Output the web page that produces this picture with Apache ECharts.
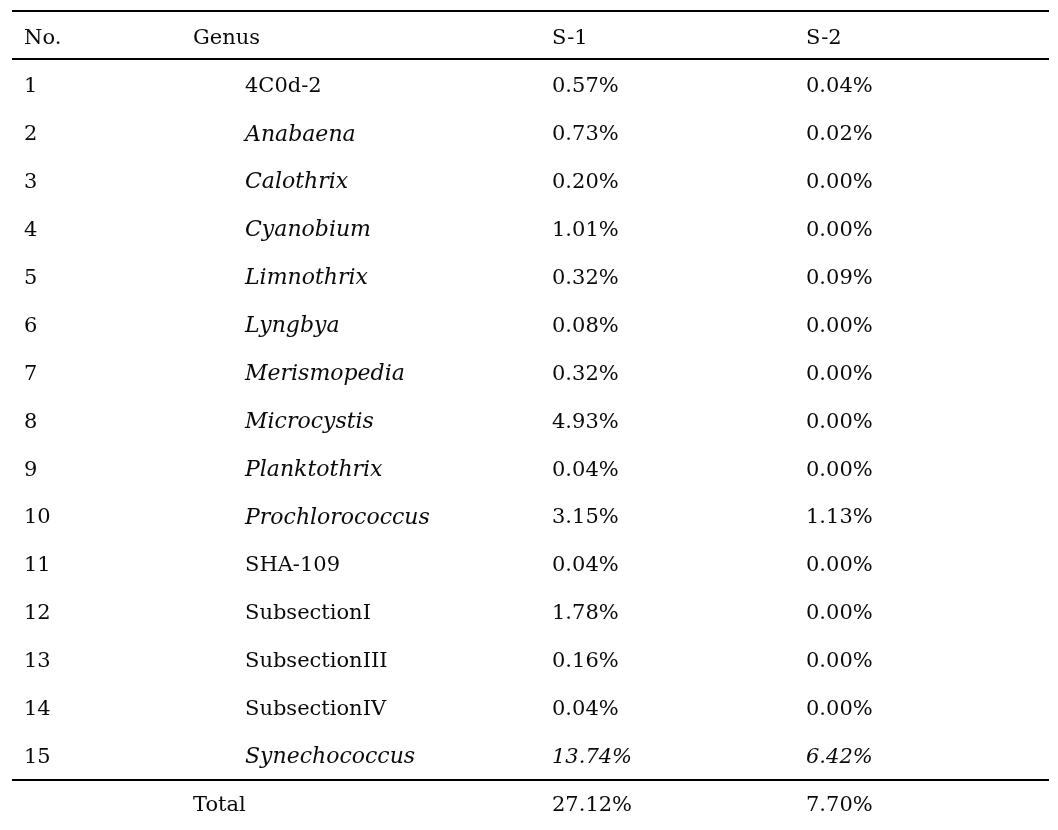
<!DOCTYPE html>
<html>
<head>
<meta charset="utf-8">
<script src="https://cdn.jsdelivr.net/npm/echarts@6/dist/echarts.min.js"></script>
<style>
html,body{margin:0;padding:0;background:#fff;}
#chart{width:1058px;height:830px;}
</style>
</head>
<body>
<div id="chart"></div>
<script>
// ---- data ----
const headers = ['No.', 'Genus', 'S-1', 'S-2'];
const rowNumbers = ['1','2','3','4','5','6','7','8','9','10','11','12','13','14','15'];
const genera = ['4C0d-2','Anabaena','Calothrix','Cyanobium','Limnothrix','Lyngbya','Merismopedia','Microcystis','Planktothrix','Prochlorococcus','SHA-109','SubsectionI','SubsectionIII','SubsectionIV','Synechococcus'];
const genusItalic = [false,true,true,true,true,true,true,true,true,true,false,false,false,false,true];
const s1Values = [0.57,0.73,0.20,1.01,0.32,0.08,0.32,4.93,0.04,3.15,0.04,1.78,0.16,0.04,13.74];
const s2Values = [0.04,0.02,0.00,0.00,0.09,0.00,0.00,0.00,0.00,1.13,0.00,0.00,0.00,0.00,6.42];
const valueItalic = [false,false,false,false,false,false,false,false,false,false,false,false,false,false,true];
const totalLabel = 'Total';
const totalS1 = 27.12;
const totalS2 = 7.70;

// ---- layout (column anchors in x-axis units, row index on y-axis) ----
const COL = {no: 24, genusHead: 193, genus: 245, s1: 552, s2: 806};
const LINE_X = [12, 1049];
const RULES = [-0.595, 0.418, 15.47];
const FONT = 'DejaVu Serif';
const FS = 21;
const FS_ITALIC_NAME = 22;

const pct = v => v.toFixed(2) + '%';
const nRows = genera.length;

function cell(x, row, text, italic, size) {
  const lbl = {formatter: () => text, fontStyle: italic ? 'italic' : 'normal'};
  if (size) lbl.fontSize = size;
  return {value: [x, row], label: lbl};
}

const headerData = [
  cell(COL.no, 0, headers[0]), cell(COL.genusHead, 0, headers[1]),
  cell(COL.s1, 0, headers[2]), cell(COL.s2, 0, headers[3])
];
const noData = rowNumbers.map((n, i) => cell(COL.no, i + 1, n, false));
const genusData = genera.map((g, i) =>
  cell(COL.genus, i + 1, g, genusItalic[i], genusItalic[i] ? FS_ITALIC_NAME : null));
const s1Data = s1Values.map((v, i) => cell(COL.s1, i + 1, pct(v), valueItalic[i]));
const s2Data = s2Values.map((v, i) => cell(COL.s2, i + 1, pct(v), valueItalic[i]));
const totalData = [
  cell(COL.genusHead, nRows + 1, totalLabel), cell(COL.s1, nRows + 1, pct(totalS1)),
  cell(COL.s2, nRows + 1, pct(totalS2))
];

const labelStyle = {
  show: true, position: 'inside', align: 'left', verticalAlign: 'middle',
  fontFamily: FONT, fontSize: FS, color: '#0a0a0a', opacity: 1
};

function textSeries(name, data) {
  return {
    name: name, type: 'scatter', data: data, symbolSize: 2,
    itemStyle: {color: 'rgba(0,0,0,0)'}, label: labelStyle, silent: true, clip: false,
    labelLayout: {hideOverlap: false}
  };
}

const series = [
  textSeries('header', headerData),
  textSeries('no', noData),
  textSeries('genus', genusData),
  textSeries('s1', s1Data),
  textSeries('s2', s2Data),
  textSeries('total', totalData)
];
series[0].markLine = {
  silent: true, symbol: 'none', animation: false,
  lineStyle: {color: '#000', width: 1.8, type: 'solid'},
  label: {show: false},
  data: RULES.map(y => [{coord: [LINE_X[0], y]}, {coord: [LINE_X[1], y]}])
};

const chart = echarts.init(document.getElementById('chart'), null, {renderer: 'canvas'});
chart.setOption({
  animation: false,
  backgroundColor: '#fff',
  grid: {left: 0, right: 0, top: 3.1, bottom: 0.6, containLabel: false},
  xAxis: {type: 'value', min: 0, max: 1058, show: false},
  yAxis: {type: 'value', min: -0.75, max: 16.5, inverse: true, show: false},
  series: series
});
</script>
</body>
</html>
